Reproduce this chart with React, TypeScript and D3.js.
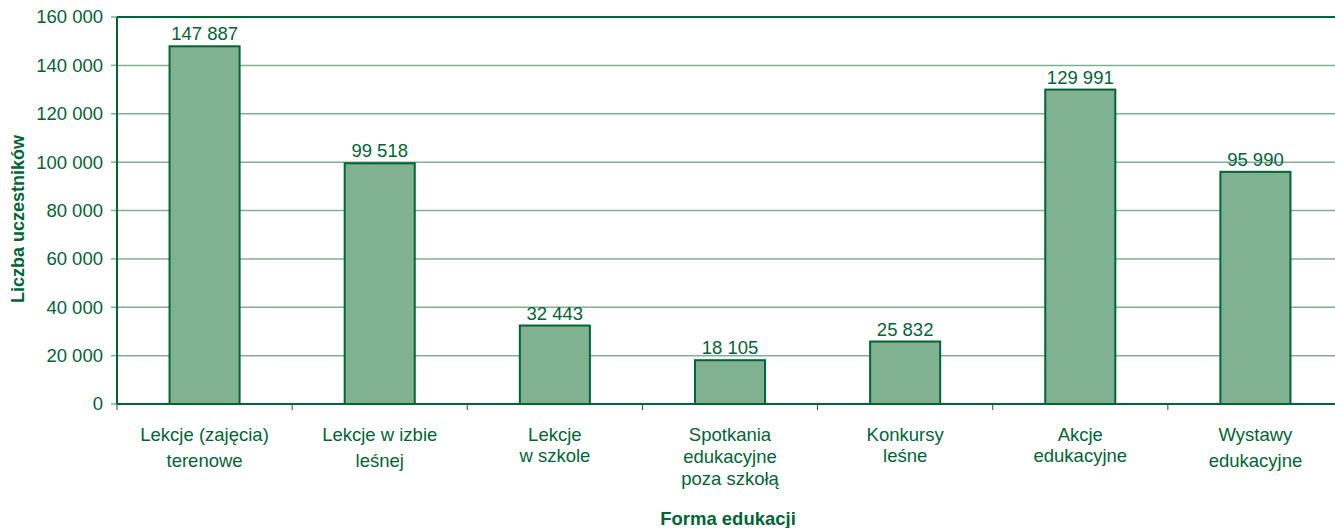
import React from "react";
import * as d3 from "d3";

const categories: string[][] = [
  ["Lekcje (zajęcia)", "terenowe"],
  ["Lekcje w izbie", "leśnej"],
  ["Lekcje", "w szkole"],
  ["Spotkania", "edukacyjne", "poza szkołą"],
  ["Konkursy", "leśne"],
  ["Akcje", "edukacyjne"],
  ["Wystawy", "edukacyjne"],
];
const values: number[] = [147887, 99518, 32443, 18105, 25832, 129991, 95990];
const yTicks: number[] = [0, 20000, 40000, 60000, 80000, 100000, 120000, 140000, 160000];
const lineGaps: number[] = [26, 26, 21, 22, 21, 21, 26];

const W = 1335;
const H = 528;
const M = { left: 117, right: -8, top: 17, bottom: 124 };
const DARK = "#006633";
const GRID = "#7fb08f";
const FILL = "#80b191";
const FONT = "'Liberation Sans', Arial, sans-serif";
const FS = 18.5;

const fmt = (v: number) => d3.format(",")(v).replace(/,/g, " ");

export default function App() {
  const x = d3
    .scaleBand<number>()
    .domain(d3.range(categories.length))
    .range([M.left, W - M.right])
    .paddingInner(0.6)
    .paddingOuter(0.3);
  const step = x.step();
  const y = d3.scaleLinear().domain([0, 160000]).range([H - M.bottom, M.top]);
  const y0 = y(0);

  return (
    <svg width={W} height={H} style={{ position: "absolute", left: 0, top: 0, display: "block" }}>
      <rect x={0} y={0} width={W} height={H} fill="#fff" />
      {yTicks.map((t) => (
        <g key={t}>
          {t > 0 && t < 160000 && (
            <line x1={M.left} x2={W} y1={y(t)} y2={y(t)} stroke={GRID} strokeWidth={1.5} />
          )}
          <line x1={M.left - 6} x2={M.left} y1={y(t)} y2={y(t)} stroke={GRID} strokeWidth={1.5} />
          <text
            x={M.left - 14}
            y={y(t)}
            dy="0.35em"
            textAnchor="end"
            fontFamily={FONT}
            fontSize={FS}
            fill={DARK}
          >
            {fmt(t)}
          </text>
        </g>
      ))}
      <line x1={M.left} x2={W} y1={y(160000)} y2={y(160000)} stroke={DARK} strokeWidth={2} />
      {values.map((v, i) => (
        <g key={i}>
          <rect
            x={x(i)!}
            y={y(v)}
            width={x.bandwidth()}
            height={y0 - y(v)}
            fill={FILL}
            stroke={DARK}
            strokeWidth={2}
          />
          <text
            x={x(i)! + x.bandwidth() / 2}
            y={y(v) - 6}
            textAnchor="middle"
            fontFamily={FONT}
            fontSize={FS}
            fill={DARK}
          >
            {fmt(v)}
          </text>
          <text
            x={x(i)! + x.bandwidth() / 2}
            y={441}
            textAnchor="middle"
            fontFamily={FONT}
            fontSize={FS}
            fill={DARK}
          >
            {categories[i].map((l, j) => (
              <tspan key={j} x={x(i)! + x.bandwidth() / 2} dy={j === 0 ? 0 : lineGaps[i]}>
                {l}
              </tspan>
            ))}
          </text>
        </g>
      ))}
      {d3.range(categories.length + 1).map((k) => (
        <line
          key={k}
          x1={M.left + k * step}
          x2={M.left + k * step}
          y1={y0}
          y2={y0 + 6}
          stroke={DARK}
          strokeWidth={1}
        />
      ))}
      <line x1={M.left} x2={W} y1={y0} y2={y0} stroke={DARK} strokeWidth={2} />
      <line x1={M.left} x2={M.left} y1={M.top} y2={y0} stroke={DARK} strokeWidth={2} />
      <text
        transform={`translate(24, 219) rotate(-90)`}
        textAnchor="middle"
        fontFamily={FONT}
        fontSize={18}
        fontWeight="bold"
        fill={DARK}
      >
        Liczba uczestników
      </text>
      <text
        x={728}
        y={525}
        textAnchor="middle"
        fontFamily={FONT}
        fontSize={FS}
        fontWeight="bold"
        fill={DARK}
      >
        Forma edukacji
      </text>
    </svg>
  );
}
